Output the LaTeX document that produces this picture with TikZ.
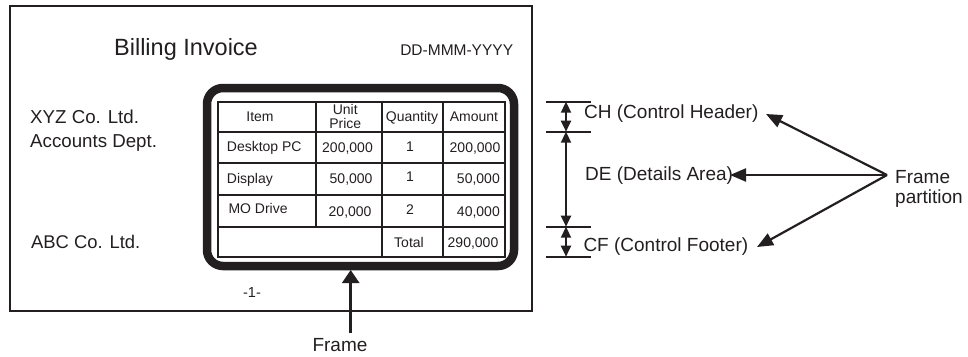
\documentclass[tikz,border=0pt]{standalone}
\usepackage{fontspec}
\setmainfont{Liberation Sans}
\usetikzlibrary{arrows.meta}
\definecolor{ink}{HTML}{231F20}
\begin{document}
\begin{tikzpicture}[x=1pt,y=-1pt,
  txt/.style={inner sep=0pt, text=ink},
  lbl/.style={txt, font=\fontsize{19}{21}\selectfont, anchor=base west},
  cell/.style={txt, font=\fontsize{14}{14}\selectfont, anchor=base},
  cellw/.style={cell, anchor=base west},
  celle/.style={cell, anchor=base east},
  thinline/.style={draw=ink, line width=1.8pt},
  tickline/.style={draw=ink, line width=2pt},
  dimline/.style={draw=ink, line width=2pt, {Triangle[length=11pt,width=10pt]}-{Triangle[length=11pt,width=10pt]}},
  bigarrow/.style={draw=ink, line width=2.2pt, -{Triangle[length=16pt,width=13pt]}},
  framearrow/.style={draw=ink, line width=2.5pt, -{Triangle[length=13pt,width=17pt]}}
]
\useasboundingbox (0,0) rectangle (968,356);

% page
\draw[draw=ink, line width=2.2pt] (10,6) rectangle (532,311);

% frame
\draw[draw=ink, line width=8.5pt, rounded corners=16pt] (207,88) rectangle (514,266);

% table
\draw[draw=ink, line width=2.2pt] (218.3,101.7) rectangle (505,256.7);
\foreach \yy in {131.7,163.3,195,226.7} \draw[thinline] (218.3,\yy) -- (505,\yy);
\draw[thinline] (316,101.7) -- (316,226.7);
\draw[thinline] (381.7,101.7) -- (381.7,256.7);
\draw[thinline] (443.3,101.7) -- (443.3,256.7);

% header texts
\node[txt, font=\fontsize{23.5}{26}\selectfont, anchor=base] (title) at (186,55) {Billing Invoice};
\node[txt, font=\fontsize{15.5}{17}\selectfont, anchor=base east] (date) at (513.3,55) {DD-MMM-YYYY};
\node[lbl, font=\fontsize{18.7}{21}\selectfont] (xyz) at (30,123) {XYZ Co. Ltd.};
\node[lbl, font=\fontsize{18.7}{21}\selectfont] (acc) at (30,147) {Accounts Dept.};
\node[lbl, font=\fontsize{18.4}{21}\selectfont] (abc) at (31,248) {ABC Co. Ltd.};
\node[txt, font=\fontsize{14.5}{16}\selectfont, anchor=base] (page) at (252,297) {-1-};

% table cells
\node[cell] (hitem) at (260,121.7) {Item};
\node[cell] (hunit) at (345.3,114.3) {Unit};
\node[cell] (hprice) at (345.3,128.3) {Price};
\node[cell] (hqty) at (412,121.7) {Quantity};
\node[cell] (hamt) at (474,121.7) {Amount};

\node[cellw] (r1a) at (226.7,151.7) {Desktop PC};
\node[cell] (r1b) at (347.5,152.7) {200,000};
\node[cell] (r1c) at (410,151.7) {1};
\node[cell] (r1d) at (475,152) {200,000};

\node[cellw] (r2a) at (226.7,183.3) {Display};
\node[celle] (r2b) at (372.7,183.3) {50,000};
\node[cell] (r2c) at (410,181.7) {1};
\node[celle] (r2d) at (500,183.3) {50,000};

\node[cellw] (r3a) at (228.3,213.3) {MO Drive};
\node[celle] (r3b) at (371.7,216.7) {20,000};
\node[cell] (r3c) at (410,214.3) {2};
\node[celle] (r3d) at (500,216.7) {40,000};

\node[cell] (tlab) at (409,247.7) {Total};
\node[cell] (tval) at (473,247.7) {290,000};

% frame arrow
\coordinate (ftip) at (350.7,270);
\coordinate (fbase) at (350.7,333);
\draw[framearrow] (fbase) -- (ftip);
\node[lbl, anchor=base] (framelbl) at (340,351.7) {Frame};

% dimension ticks
\coordinate (d1) at (566,101.7);
\coordinate (d2) at (566,131.7);
\coordinate (d3) at (566,226.7);
\coordinate (d4) at (566,256.7);
\foreach \c in {d1,d2,d3,d4} \draw[tickline] ([xshift=-20pt]\c) -- ([xshift=25pt]\c);
\draw[dimline] (d1) -- (d2);
\draw[dimline] (d2) -- (d3);
\draw[dimline] (d3) -- (d4);

% labels
\node[lbl] (ch) at (584,118.3) {CH (Control Header)};
\node[lbl] (de) at (585,180) {DE (Details Area)};
\node[lbl] (cf) at (583.3,251.7) {CF (Control Footer)};
\node[lbl] (fp1) at (895,183.3) {Frame};
\node[lbl] (fp2) at (895,203.3) {partition};

% partition arrows
\coordinate (fp) at (887,175);
\coordinate (chtip) at (766,114);
\coordinate (detip) at (730,175);
\coordinate (cftip) at (757,247);
\draw[bigarrow] (fp) -- (chtip);
\draw[bigarrow] (fp) -- (detip);
\draw[bigarrow] (fp) -- (cftip);
\end{tikzpicture}
\end{document}
